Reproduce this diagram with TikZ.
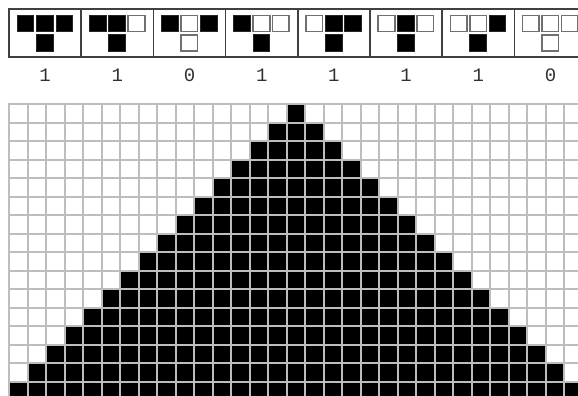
\documentclass[tikz,border=0pt]{standalone}
\usepackage{fontspec}
\newfontfamily\digitfont{Liberation Mono}
\definecolor{gridgray}{HTML}{BDBDBD}
\definecolor{framegray}{HTML}{404040}
\definecolor{rimgray}{HTML}{707070}
\definecolor{digitgray}{HTML}{303030}
\tikzset{
  gridline/.style={draw=gridgray, line width=2pt},
  boxframe/.style={draw=framegray, line width=1.5pt},
  cell1/.style={fill=black, draw=black!85, line width=1pt},
  cell0/.style={fill=white, draw=rimgray, line width=1.5pt},
  digit/.style={font=\digitfont\fontsize{19}{19}\selectfont, text=digitgray, inner sep=0pt},
  cacell/.style={fill=black}
}
\begin{document}
\begin{tikzpicture}[x=1pt,y=-1pt]
\useasboundingbox (0,0) rectangle (578,396);
\clip (0,0) rectangle (578,396);
% cellular automaton (rule 222) evolution
\foreach \r in {0,...,15} {
  \pgfmathtruncatemacro\xa{9+18.5*(15-\r)+0.5}
  \pgfmathtruncatemacro\xb{9+18.5*(16+\r)+0.5}
  \pgfmathtruncatemacro\ya{104+18.5*\r+0.5}
  \pgfmathtruncatemacro\yb{104+18.5*(\r+1)+0.5}
  \fill[cacell] (\xa,\ya) rectangle (\xb,\yb);
}
\foreach \i in {0,...,31} {
  \pgfmathtruncatemacro\gx{9+18.5*\i+0.5}
  \draw[gridline] (\gx,104) -- (\gx,400);
}
\foreach \j in {0,...,16} {
  \pgfmathtruncatemacro\gy{104+18.5*\j+0.5}
  \draw[gridline] (8,\gy) -- (583,\gy);
}
% rule table
\foreach \a/\b/\c/\o [count=\k from 0] in {1/1/1/1,1/1/0/1,1/0/1/0,1/0/0/1,0/1/1/1,0/1/0/1,0/0/1/1,0/0/0/0} {
  \pgfmathsetmacro\L{9+72.2*\k}
  \draw[boxframe] (\L,9) rectangle (\L+72.2,57);
  \draw[cell\a] (\L+8.2,15.5) rectangle (\L+24.8,31.7);
  \draw[cell\b] (\L+27.6,15.5) rectangle (\L+44.2,31.7);
  \draw[cell\c] (\L+47.0,15.5) rectangle (\L+63.6,31.7);
  \draw[cell\o] (\L+27.6,34.8) rectangle (\L+44.2,51.2);
  \node[digit] (lab\k) at (\L+36.1,75) {\o};
}
\end{tikzpicture}
\end{document}
